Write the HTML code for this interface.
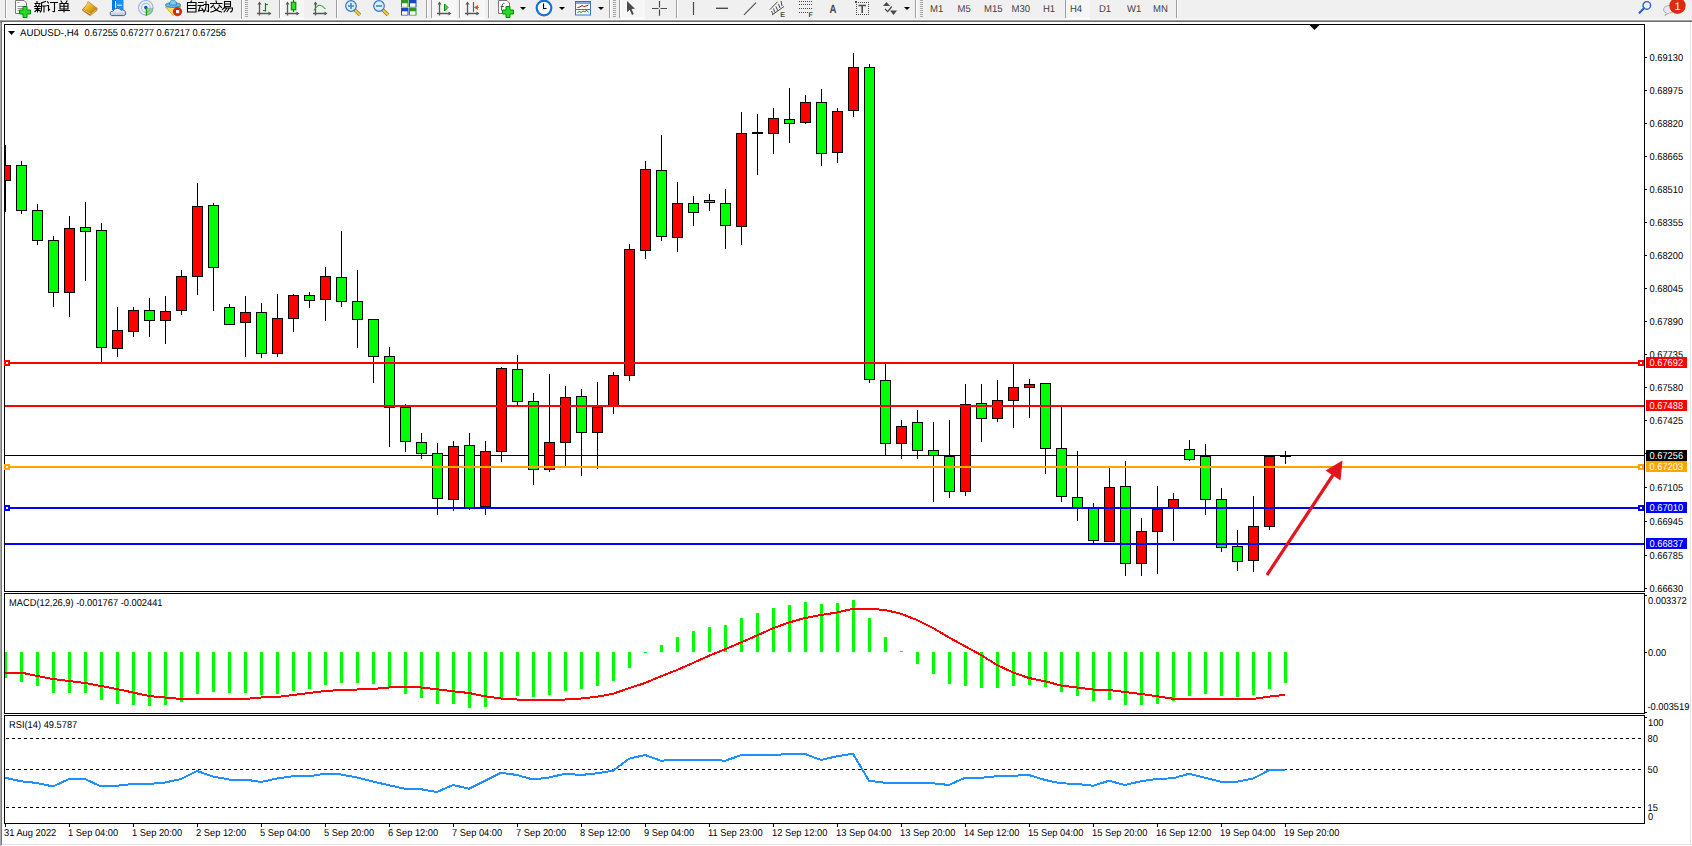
<!DOCTYPE html><html><head><meta charset="utf-8"><style>
html,body{margin:0;padding:0;width:1692px;height:846px;overflow:hidden;background:#f0f0f0;}
svg{display:block;position:absolute;left:0;top:0;}
text{font-family:"Liberation Sans", sans-serif;text-rendering:geometricPrecision;}
</style></head><body>
<svg width="1692" height="846" viewBox="0 0 1692 846">
<rect x="0" y="0" width="1692" height="19" fill="#f0f0f0"/>
<rect x="0" y="19" width="1692" height="1" fill="#f7f7f7"/>
<rect x="0" y="20" width="1692" height="1" fill="#a0a0a0"/>
<rect x="0" y="21" width="1692" height="1" fill="#6e6e6e"/>
<rect x="0" y="22" width="1692" height="824" fill="#ffffff"/>
<rect x="0" y="22" width="1" height="824" fill="#a8a8a8"/>
<rect x="1" y="22" width="1" height="823" fill="#787878"/>
<rect x="2" y="844" width="1690" height="1" fill="#e3e3e3"/>
<rect x="1690" y="22" width="1" height="823" fill="#e3e3e3"/>
<g shape-rendering="crispEdges">
<rect x="4" y="24" width="1641" height="1" fill="#000"/>
<rect x="4" y="591" width="1641" height="1" fill="#000"/>
<rect x="4" y="24" width="1" height="568" fill="#000"/>
<rect x="1644" y="24" width="1" height="568" fill="#000"/>
<rect x="4" y="593" width="1641" height="1" fill="#000"/>
<rect x="4" y="713" width="1641" height="1" fill="#000"/>
<rect x="4" y="593" width="1" height="121" fill="#000"/>
<rect x="1644" y="593" width="1" height="121" fill="#000"/>
<rect x="4" y="715" width="1641" height="1" fill="#000"/>
<rect x="4" y="823" width="1641" height="1" fill="#000"/>
<rect x="4" y="715" width="1" height="109" fill="#000"/>
<rect x="1644" y="715" width="1" height="109" fill="#000"/>
<defs><clipPath id="cm"><rect x="5" y="25" width="1639" height="566"/></clipPath><clipPath id="cmacd"><rect x="5" y="594" width="1639" height="119"/></clipPath><clipPath id="crsi"><rect x="5" y="716" width="1639" height="107"/></clipPath></defs>
<rect x="5" y="455" width="1639" height="1" fill="#000"/>
<g clip-path="url(#cm)">
<rect x="5" y="145" width="1" height="67" fill="#000"/>
<rect x="0" y="165" width="11" height="16" fill="#000"/>
<rect x="1" y="166" width="9" height="14" fill="#ff0000"/>
<rect x="21" y="161" width="1" height="53" fill="#000"/>
<rect x="16" y="165" width="11" height="46" fill="#000"/>
<rect x="17" y="166" width="9" height="44" fill="#00ff00"/>
<rect x="37" y="204" width="1" height="41" fill="#000"/>
<rect x="32" y="210" width="11" height="31" fill="#000"/>
<rect x="33" y="211" width="9" height="29" fill="#00ff00"/>
<rect x="53" y="236" width="1" height="71" fill="#000"/>
<rect x="48" y="240" width="11" height="53" fill="#000"/>
<rect x="49" y="241" width="9" height="51" fill="#00ff00"/>
<rect x="69" y="216" width="1" height="101" fill="#000"/>
<rect x="64" y="228" width="11" height="65" fill="#000"/>
<rect x="65" y="229" width="9" height="63" fill="#ff0000"/>
<rect x="85" y="202" width="1" height="79" fill="#000"/>
<rect x="80" y="227" width="11" height="5" fill="#000"/>
<rect x="81" y="228" width="9" height="3" fill="#00ff00"/>
<rect x="101" y="223" width="1" height="139" fill="#000"/>
<rect x="96" y="230" width="11" height="118" fill="#000"/>
<rect x="97" y="231" width="9" height="116" fill="#00ff00"/>
<rect x="117" y="307" width="1" height="50" fill="#000"/>
<rect x="112" y="330" width="11" height="19" fill="#000"/>
<rect x="113" y="331" width="9" height="17" fill="#ff0000"/>
<rect x="133" y="307" width="1" height="30" fill="#000"/>
<rect x="128" y="310" width="11" height="22" fill="#000"/>
<rect x="129" y="311" width="9" height="20" fill="#ff0000"/>
<rect x="149" y="298" width="1" height="39" fill="#000"/>
<rect x="144" y="310" width="11" height="11" fill="#000"/>
<rect x="145" y="311" width="9" height="9" fill="#00ff00"/>
<rect x="165" y="296" width="1" height="48" fill="#000"/>
<rect x="160" y="311" width="11" height="10" fill="#000"/>
<rect x="161" y="312" width="9" height="8" fill="#ff0000"/>
<rect x="181" y="270" width="1" height="45" fill="#000"/>
<rect x="176" y="276" width="11" height="35" fill="#000"/>
<rect x="177" y="277" width="9" height="33" fill="#ff0000"/>
<rect x="197" y="183" width="1" height="112" fill="#000"/>
<rect x="192" y="206" width="11" height="71" fill="#000"/>
<rect x="193" y="207" width="9" height="69" fill="#ff0000"/>
<rect x="213" y="203" width="1" height="108" fill="#000"/>
<rect x="208" y="205" width="11" height="63" fill="#000"/>
<rect x="209" y="206" width="9" height="61" fill="#00ff00"/>
<rect x="229" y="304" width="1" height="20" fill="#000"/>
<rect x="224" y="307" width="11" height="18" fill="#000"/>
<rect x="225" y="308" width="9" height="16" fill="#00ff00"/>
<rect x="245" y="296" width="1" height="61" fill="#000"/>
<rect x="240" y="312" width="11" height="11" fill="#000"/>
<rect x="241" y="313" width="9" height="9" fill="#ff0000"/>
<rect x="261" y="303" width="1" height="55" fill="#000"/>
<rect x="256" y="312" width="11" height="42" fill="#000"/>
<rect x="257" y="313" width="9" height="40" fill="#00ff00"/>
<rect x="277" y="294" width="1" height="63" fill="#000"/>
<rect x="272" y="318" width="11" height="36" fill="#000"/>
<rect x="273" y="319" width="9" height="34" fill="#ff0000"/>
<rect x="293" y="294" width="1" height="38" fill="#000"/>
<rect x="288" y="295" width="11" height="24" fill="#000"/>
<rect x="289" y="296" width="9" height="22" fill="#ff0000"/>
<rect x="309" y="292" width="1" height="16" fill="#000"/>
<rect x="304" y="295" width="11" height="6" fill="#000"/>
<rect x="305" y="296" width="9" height="4" fill="#00ff00"/>
<rect x="325" y="267" width="1" height="54" fill="#000"/>
<rect x="320" y="276" width="11" height="24" fill="#000"/>
<rect x="321" y="277" width="9" height="22" fill="#ff0000"/>
<rect x="341" y="231" width="1" height="76" fill="#000"/>
<rect x="336" y="277" width="11" height="25" fill="#000"/>
<rect x="337" y="278" width="9" height="23" fill="#00ff00"/>
<rect x="357" y="270" width="1" height="78" fill="#000"/>
<rect x="352" y="301" width="11" height="19" fill="#000"/>
<rect x="353" y="302" width="9" height="17" fill="#00ff00"/>
<rect x="373" y="319" width="1" height="64" fill="#000"/>
<rect x="368" y="319" width="11" height="38" fill="#000"/>
<rect x="369" y="320" width="9" height="36" fill="#00ff00"/>
<rect x="389" y="347" width="1" height="100" fill="#000"/>
<rect x="384" y="356" width="11" height="52" fill="#000"/>
<rect x="385" y="357" width="9" height="50" fill="#00ff00"/>
<rect x="405" y="404" width="1" height="48" fill="#000"/>
<rect x="400" y="407" width="11" height="35" fill="#000"/>
<rect x="401" y="408" width="9" height="33" fill="#00ff00"/>
<rect x="421" y="433" width="1" height="26" fill="#000"/>
<rect x="416" y="442" width="11" height="12" fill="#000"/>
<rect x="417" y="443" width="9" height="10" fill="#00ff00"/>
<rect x="437" y="443" width="1" height="72" fill="#000"/>
<rect x="432" y="453" width="11" height="46" fill="#000"/>
<rect x="433" y="454" width="9" height="44" fill="#00ff00"/>
<rect x="453" y="441" width="1" height="70" fill="#000"/>
<rect x="448" y="446" width="11" height="54" fill="#000"/>
<rect x="449" y="447" width="9" height="52" fill="#ff0000"/>
<rect x="469" y="433" width="1" height="77" fill="#000"/>
<rect x="464" y="445" width="11" height="63" fill="#000"/>
<rect x="465" y="446" width="9" height="61" fill="#00ff00"/>
<rect x="485" y="441" width="1" height="74" fill="#000"/>
<rect x="480" y="451" width="11" height="56" fill="#000"/>
<rect x="481" y="452" width="9" height="54" fill="#ff0000"/>
<rect x="501" y="367" width="1" height="95" fill="#000"/>
<rect x="496" y="368" width="11" height="84" fill="#000"/>
<rect x="497" y="369" width="9" height="82" fill="#ff0000"/>
<rect x="517" y="355" width="1" height="50" fill="#000"/>
<rect x="512" y="369" width="11" height="33" fill="#000"/>
<rect x="513" y="370" width="9" height="31" fill="#00ff00"/>
<rect x="533" y="393" width="1" height="92" fill="#000"/>
<rect x="528" y="401" width="11" height="69" fill="#000"/>
<rect x="529" y="402" width="9" height="67" fill="#00ff00"/>
<rect x="549" y="374" width="1" height="98" fill="#000"/>
<rect x="544" y="442" width="11" height="28" fill="#000"/>
<rect x="545" y="443" width="9" height="26" fill="#ff0000"/>
<rect x="565" y="386" width="1" height="80" fill="#000"/>
<rect x="560" y="397" width="11" height="46" fill="#000"/>
<rect x="561" y="398" width="9" height="44" fill="#ff0000"/>
<rect x="581" y="389" width="1" height="87" fill="#000"/>
<rect x="576" y="396" width="11" height="37" fill="#000"/>
<rect x="577" y="397" width="9" height="35" fill="#00ff00"/>
<rect x="597" y="382" width="1" height="87" fill="#000"/>
<rect x="592" y="407" width="11" height="26" fill="#000"/>
<rect x="593" y="408" width="9" height="24" fill="#ff0000"/>
<rect x="613" y="372" width="1" height="42" fill="#000"/>
<rect x="608" y="375" width="11" height="32" fill="#000"/>
<rect x="609" y="376" width="9" height="30" fill="#ff0000"/>
<rect x="629" y="244" width="1" height="137" fill="#000"/>
<rect x="624" y="249" width="11" height="127" fill="#000"/>
<rect x="625" y="250" width="9" height="125" fill="#ff0000"/>
<rect x="645" y="161" width="1" height="98" fill="#000"/>
<rect x="640" y="169" width="11" height="82" fill="#000"/>
<rect x="641" y="170" width="9" height="80" fill="#ff0000"/>
<rect x="661" y="135" width="1" height="106" fill="#000"/>
<rect x="656" y="170" width="11" height="67" fill="#000"/>
<rect x="657" y="171" width="9" height="65" fill="#00ff00"/>
<rect x="677" y="182" width="1" height="70" fill="#000"/>
<rect x="672" y="203" width="11" height="35" fill="#000"/>
<rect x="673" y="204" width="9" height="33" fill="#ff0000"/>
<rect x="693" y="196" width="1" height="30" fill="#000"/>
<rect x="688" y="203" width="11" height="10" fill="#000"/>
<rect x="689" y="204" width="9" height="8" fill="#00ff00"/>
<rect x="709" y="194" width="1" height="17" fill="#000"/>
<rect x="704" y="200" width="11" height="3" fill="#000"/>
<rect x="705" y="201" width="9" height="1" fill="#00ff00"/>
<rect x="725" y="189" width="1" height="60" fill="#000"/>
<rect x="720" y="203" width="11" height="23" fill="#000"/>
<rect x="721" y="204" width="9" height="21" fill="#00ff00"/>
<rect x="741" y="112" width="1" height="133" fill="#000"/>
<rect x="736" y="133" width="11" height="94" fill="#000"/>
<rect x="737" y="134" width="9" height="92" fill="#ff0000"/>
<rect x="757" y="114" width="1" height="61" fill="#000"/>
<rect x="752" y="132" width="11" height="2" fill="#000"/>
<rect x="773" y="108" width="1" height="46" fill="#000"/>
<rect x="768" y="118" width="11" height="16" fill="#000"/>
<rect x="769" y="119" width="9" height="14" fill="#ff0000"/>
<rect x="789" y="88" width="1" height="55" fill="#000"/>
<rect x="784" y="119" width="11" height="5" fill="#000"/>
<rect x="785" y="120" width="9" height="3" fill="#00ff00"/>
<rect x="805" y="95" width="1" height="29" fill="#000"/>
<rect x="800" y="102" width="11" height="21" fill="#000"/>
<rect x="801" y="103" width="9" height="19" fill="#ff0000"/>
<rect x="821" y="89" width="1" height="77" fill="#000"/>
<rect x="816" y="102" width="11" height="52" fill="#000"/>
<rect x="817" y="103" width="9" height="50" fill="#00ff00"/>
<rect x="837" y="108" width="1" height="55" fill="#000"/>
<rect x="832" y="111" width="11" height="42" fill="#000"/>
<rect x="833" y="112" width="9" height="40" fill="#ff0000"/>
<rect x="853" y="53" width="1" height="64" fill="#000"/>
<rect x="848" y="67" width="11" height="44" fill="#000"/>
<rect x="849" y="68" width="9" height="42" fill="#ff0000"/>
<rect x="869" y="64" width="1" height="319" fill="#000"/>
<rect x="864" y="67" width="11" height="313" fill="#000"/>
<rect x="865" y="68" width="9" height="311" fill="#00ff00"/>
<rect x="885" y="364" width="1" height="91" fill="#000"/>
<rect x="880" y="380" width="11" height="64" fill="#000"/>
<rect x="881" y="381" width="9" height="62" fill="#00ff00"/>
<rect x="901" y="420" width="1" height="39" fill="#000"/>
<rect x="896" y="426" width="11" height="18" fill="#000"/>
<rect x="897" y="427" width="9" height="16" fill="#ff0000"/>
<rect x="917" y="410" width="1" height="49" fill="#000"/>
<rect x="912" y="422" width="11" height="29" fill="#000"/>
<rect x="913" y="423" width="9" height="27" fill="#00ff00"/>
<rect x="933" y="422" width="1" height="80" fill="#000"/>
<rect x="928" y="450" width="11" height="6" fill="#000"/>
<rect x="929" y="451" width="9" height="4" fill="#00ff00"/>
<rect x="949" y="420" width="1" height="78" fill="#000"/>
<rect x="944" y="456" width="11" height="36" fill="#000"/>
<rect x="945" y="457" width="9" height="34" fill="#00ff00"/>
<rect x="965" y="384" width="1" height="112" fill="#000"/>
<rect x="960" y="404" width="11" height="88" fill="#000"/>
<rect x="961" y="405" width="9" height="86" fill="#ff0000"/>
<rect x="981" y="384" width="1" height="58" fill="#000"/>
<rect x="976" y="403" width="11" height="16" fill="#000"/>
<rect x="977" y="404" width="9" height="14" fill="#00ff00"/>
<rect x="997" y="380" width="1" height="42" fill="#000"/>
<rect x="992" y="400" width="11" height="19" fill="#000"/>
<rect x="993" y="401" width="9" height="17" fill="#ff0000"/>
<rect x="1013" y="364" width="1" height="64" fill="#000"/>
<rect x="1008" y="387" width="11" height="14" fill="#000"/>
<rect x="1009" y="388" width="9" height="12" fill="#ff0000"/>
<rect x="1029" y="379" width="1" height="39" fill="#000"/>
<rect x="1024" y="384" width="11" height="4" fill="#000"/>
<rect x="1025" y="385" width="9" height="2" fill="#ff0000"/>
<rect x="1045" y="383" width="1" height="91" fill="#000"/>
<rect x="1040" y="383" width="11" height="66" fill="#000"/>
<rect x="1041" y="384" width="9" height="64" fill="#00ff00"/>
<rect x="1061" y="406" width="1" height="96" fill="#000"/>
<rect x="1056" y="448" width="11" height="49" fill="#000"/>
<rect x="1057" y="449" width="9" height="47" fill="#00ff00"/>
<rect x="1077" y="451" width="1" height="70" fill="#000"/>
<rect x="1072" y="497" width="11" height="11" fill="#000"/>
<rect x="1073" y="498" width="9" height="9" fill="#00ff00"/>
<rect x="1093" y="503" width="1" height="40" fill="#000"/>
<rect x="1088" y="508" width="11" height="33" fill="#000"/>
<rect x="1089" y="509" width="9" height="31" fill="#00ff00"/>
<rect x="1109" y="468" width="1" height="73" fill="#000"/>
<rect x="1104" y="487" width="11" height="55" fill="#000"/>
<rect x="1105" y="488" width="9" height="53" fill="#ff0000"/>
<rect x="1125" y="461" width="1" height="115" fill="#000"/>
<rect x="1120" y="486" width="11" height="78" fill="#000"/>
<rect x="1121" y="487" width="9" height="76" fill="#00ff00"/>
<rect x="1141" y="518" width="1" height="58" fill="#000"/>
<rect x="1136" y="531" width="11" height="33" fill="#000"/>
<rect x="1137" y="532" width="9" height="31" fill="#ff0000"/>
<rect x="1157" y="486" width="1" height="88" fill="#000"/>
<rect x="1152" y="509" width="11" height="23" fill="#000"/>
<rect x="1153" y="510" width="9" height="21" fill="#ff0000"/>
<rect x="1173" y="493" width="1" height="48" fill="#000"/>
<rect x="1168" y="499" width="11" height="9" fill="#000"/>
<rect x="1169" y="500" width="9" height="7" fill="#ff0000"/>
<rect x="1189" y="440" width="1" height="21" fill="#000"/>
<rect x="1184" y="449" width="11" height="11" fill="#000"/>
<rect x="1185" y="450" width="9" height="9" fill="#00ff00"/>
<rect x="1205" y="444" width="1" height="71" fill="#000"/>
<rect x="1200" y="456" width="11" height="44" fill="#000"/>
<rect x="1201" y="457" width="9" height="42" fill="#00ff00"/>
<rect x="1221" y="488" width="1" height="64" fill="#000"/>
<rect x="1216" y="499" width="11" height="49" fill="#000"/>
<rect x="1217" y="500" width="9" height="47" fill="#00ff00"/>
<rect x="1237" y="530" width="1" height="41" fill="#000"/>
<rect x="1232" y="546" width="11" height="16" fill="#000"/>
<rect x="1233" y="547" width="9" height="14" fill="#00ff00"/>
<rect x="1253" y="496" width="1" height="76" fill="#000"/>
<rect x="1248" y="526" width="11" height="35" fill="#000"/>
<rect x="1249" y="527" width="9" height="33" fill="#ff0000"/>
<rect x="1269" y="455" width="1" height="75" fill="#000"/>
<rect x="1264" y="456" width="11" height="71" fill="#000"/>
<rect x="1265" y="457" width="9" height="69" fill="#ff0000"/>
<rect x="1285" y="451" width="1" height="13" fill="#000"/>
<rect x="1280" y="455" width="11" height="2" fill="#000"/>
</g>
</g>
<g shape-rendering="crispEdges">
<rect x="5" y="362" width="1639" height="2" fill="#ff0000"/>
<rect x="4" y="360" width="6" height="6" fill="#ff0000"/>
<rect x="6" y="362" width="2" height="2" fill="#fff"/>
<rect x="1638" y="360" width="6" height="6" fill="#ff0000"/>
<rect x="1640" y="362" width="2" height="2" fill="#fff"/>
<rect x="5" y="405" width="1639" height="2" fill="#ff0000"/>
<rect x="5" y="466" width="1639" height="2" fill="#ffa500"/>
<rect x="4" y="464" width="6" height="6" fill="#ffa500"/>
<rect x="6" y="466" width="2" height="2" fill="#fff"/>
<rect x="1638" y="464" width="6" height="6" fill="#ffa500"/>
<rect x="1640" y="466" width="2" height="2" fill="#fff"/>
<rect x="5" y="507" width="1639" height="2" fill="#0000ff"/>
<rect x="4" y="505" width="6" height="6" fill="#0000ff"/>
<rect x="6" y="507" width="2" height="2" fill="#fff"/>
<rect x="1638" y="505" width="6" height="6" fill="#0000ff"/>
<rect x="1640" y="507" width="2" height="2" fill="#fff"/>
<rect x="5" y="543" width="1639" height="2" fill="#0000ff"/>
</g>
<g shape-rendering="crispEdges">
<rect x="1645" y="57" width="2" height="1" fill="#000"/>
<rect x="1645" y="90" width="2" height="1" fill="#000"/>
<rect x="1645" y="123" width="2" height="1" fill="#000"/>
<rect x="1645" y="156" width="2" height="1" fill="#000"/>
<rect x="1645" y="189" width="2" height="1" fill="#000"/>
<rect x="1645" y="222" width="2" height="1" fill="#000"/>
<rect x="1645" y="255" width="2" height="1" fill="#000"/>
<rect x="1645" y="288" width="2" height="1" fill="#000"/>
<rect x="1645" y="321" width="2" height="1" fill="#000"/>
<rect x="1645" y="354" width="2" height="1" fill="#000"/>
<rect x="1645" y="387" width="2" height="1" fill="#000"/>
<rect x="1645" y="420" width="2" height="1" fill="#000"/>
<rect x="1645" y="453" width="2" height="1" fill="#000"/>
<rect x="1645" y="487" width="2" height="1" fill="#000"/>
<rect x="1645" y="521" width="2" height="1" fill="#000"/>
<rect x="1645" y="555" width="2" height="1" fill="#000"/>
<rect x="1645" y="588" width="2" height="1" fill="#000"/>
</g>
<text transform="translate(1649.5 61) scale(0.93 1)" font-size="10" fill="#000">0.69130</text>
<text transform="translate(1649.5 94) scale(0.93 1)" font-size="10" fill="#000">0.68975</text>
<text transform="translate(1649.5 127) scale(0.93 1)" font-size="10" fill="#000">0.68820</text>
<text transform="translate(1649.5 160) scale(0.93 1)" font-size="10" fill="#000">0.68665</text>
<text transform="translate(1649.5 193) scale(0.93 1)" font-size="10" fill="#000">0.68510</text>
<text transform="translate(1649.5 226) scale(0.93 1)" font-size="10" fill="#000">0.68355</text>
<text transform="translate(1649.5 259) scale(0.93 1)" font-size="10" fill="#000">0.68200</text>
<text transform="translate(1649.5 292) scale(0.93 1)" font-size="10" fill="#000">0.68045</text>
<text transform="translate(1649.5 325) scale(0.93 1)" font-size="10" fill="#000">0.67890</text>
<text transform="translate(1649.5 358) scale(0.93 1)" font-size="10" fill="#000">0.67735</text>
<text transform="translate(1649.5 391) scale(0.93 1)" font-size="10" fill="#000">0.67580</text>
<text transform="translate(1649.5 424) scale(0.93 1)" font-size="10" fill="#000">0.67425</text>
<text transform="translate(1649.5 457) scale(0.93 1)" font-size="10" fill="#000">0.67270</text>
<text transform="translate(1649.5 491) scale(0.93 1)" font-size="10" fill="#000">0.67105</text>
<text transform="translate(1649.5 525) scale(0.93 1)" font-size="10" fill="#000">0.66945</text>
<text transform="translate(1649.5 559) scale(0.93 1)" font-size="10" fill="#000">0.66785</text>
<text transform="translate(1649.5 592) scale(0.93 1)" font-size="10" fill="#000">0.66630</text>
<g shape-rendering="crispEdges">
<rect x="1646" y="357" width="41" height="11" fill="#ff0000"/>
<rect x="1646" y="400" width="41" height="11" fill="#ff0000"/>
<rect x="1646" y="450" width="41" height="11" fill="#000000"/>
<rect x="1646" y="461" width="41" height="11" fill="#ffa500"/>
<rect x="1646" y="502" width="41" height="11" fill="#0000ff"/>
<rect x="1646" y="538" width="41" height="11" fill="#0000ff"/>
</g>
<text transform="translate(1649.5 366) scale(0.93 1)" font-size="10" fill="#fff">0.67692</text>
<text transform="translate(1649.5 409) scale(0.93 1)" font-size="10" fill="#fff">0.67488</text>
<text transform="translate(1649.5 459) scale(0.93 1)" font-size="10" fill="#fff">0.67256</text>
<text transform="translate(1649.5 470) scale(0.93 1)" font-size="10" fill="#fff">0.67203</text>
<text transform="translate(1649.5 511) scale(0.93 1)" font-size="10" fill="#fff">0.67010</text>
<text transform="translate(1649.5 547) scale(0.93 1)" font-size="10" fill="#fff">0.66837</text>
<path d="M8 31 L15 31 L11.5 35 Z" fill="#000"/>
<text transform="translate(20 36) scale(0.965 1)" font-size="10" fill="#000">AUDUSD-,H4</text>
<text transform="translate(84.5 36) scale(0.925 1)" font-size="10" fill="#000">0.67255 0.67277 0.67217 0.67256</text>
<path d="M1309.5 25 L1319.5 25 L1314.5 30 Z" fill="#000"/>
<g clip-path="url(#cmacd)" shape-rendering="crispEdges">
<rect x="4" y="652" width="3" height="26" fill="#00ff00"/>
<rect x="20" y="652" width="3" height="30" fill="#00ff00"/>
<rect x="36" y="652" width="3" height="34" fill="#00ff00"/>
<rect x="52" y="652" width="3" height="41" fill="#00ff00"/>
<rect x="68" y="652" width="3" height="41" fill="#00ff00"/>
<rect x="84" y="652" width="3" height="41" fill="#00ff00"/>
<rect x="100" y="652" width="3" height="48" fill="#00ff00"/>
<rect x="116" y="652" width="3" height="52" fill="#00ff00"/>
<rect x="132" y="652" width="3" height="53" fill="#00ff00"/>
<rect x="148" y="652" width="3" height="54" fill="#00ff00"/>
<rect x="164" y="652" width="3" height="53" fill="#00ff00"/>
<rect x="180" y="652" width="3" height="50" fill="#00ff00"/>
<rect x="196" y="652" width="3" height="42" fill="#00ff00"/>
<rect x="212" y="652" width="3" height="40" fill="#00ff00"/>
<rect x="228" y="652" width="3" height="41" fill="#00ff00"/>
<rect x="244" y="652" width="3" height="41" fill="#00ff00"/>
<rect x="260" y="652" width="3" height="43" fill="#00ff00"/>
<rect x="276" y="652" width="3" height="42" fill="#00ff00"/>
<rect x="292" y="652" width="3" height="39" fill="#00ff00"/>
<rect x="308" y="652" width="3" height="37" fill="#00ff00"/>
<rect x="324" y="652" width="3" height="33" fill="#00ff00"/>
<rect x="340" y="652" width="3" height="31" fill="#00ff00"/>
<rect x="356" y="652" width="3" height="31" fill="#00ff00"/>
<rect x="372" y="652" width="3" height="32" fill="#00ff00"/>
<rect x="388" y="652" width="3" height="36" fill="#00ff00"/>
<rect x="404" y="652" width="3" height="42" fill="#00ff00"/>
<rect x="420" y="652" width="3" height="46" fill="#00ff00"/>
<rect x="436" y="652" width="3" height="52" fill="#00ff00"/>
<rect x="452" y="652" width="3" height="52" fill="#00ff00"/>
<rect x="468" y="652" width="3" height="56" fill="#00ff00"/>
<rect x="484" y="652" width="3" height="55" fill="#00ff00"/>
<rect x="500" y="652" width="3" height="47" fill="#00ff00"/>
<rect x="516" y="652" width="3" height="44" fill="#00ff00"/>
<rect x="532" y="652" width="3" height="45" fill="#00ff00"/>
<rect x="548" y="652" width="3" height="43" fill="#00ff00"/>
<rect x="564" y="652" width="3" height="39" fill="#00ff00"/>
<rect x="580" y="652" width="3" height="37" fill="#00ff00"/>
<rect x="596" y="652" width="3" height="34" fill="#00ff00"/>
<rect x="612" y="652" width="3" height="29" fill="#00ff00"/>
<rect x="628" y="652" width="3" height="16" fill="#00ff00"/>
<rect x="644" y="652" width="3" height="1" fill="#00ff00"/>
<rect x="660" y="645" width="3" height="7" fill="#00ff00"/>
<rect x="676" y="637" width="3" height="15" fill="#00ff00"/>
<rect x="692" y="631" width="3" height="21" fill="#00ff00"/>
<rect x="708" y="627" width="3" height="25" fill="#00ff00"/>
<rect x="724" y="625" width="3" height="27" fill="#00ff00"/>
<rect x="740" y="618" width="3" height="34" fill="#00ff00"/>
<rect x="756" y="613" width="3" height="39" fill="#00ff00"/>
<rect x="772" y="608" width="3" height="44" fill="#00ff00"/>
<rect x="788" y="605" width="3" height="47" fill="#00ff00"/>
<rect x="804" y="602" width="3" height="50" fill="#00ff00"/>
<rect x="820" y="604" width="3" height="48" fill="#00ff00"/>
<rect x="836" y="603" width="3" height="49" fill="#00ff00"/>
<rect x="852" y="600" width="3" height="52" fill="#00ff00"/>
<rect x="868" y="618" width="3" height="34" fill="#00ff00"/>
<rect x="884" y="637" width="3" height="15" fill="#00ff00"/>
<rect x="900" y="651" width="3" height="1" fill="#00ff00"/>
<rect x="916" y="652" width="3" height="12" fill="#00ff00"/>
<rect x="932" y="652" width="3" height="22" fill="#00ff00"/>
<rect x="948" y="652" width="3" height="32" fill="#00ff00"/>
<rect x="964" y="652" width="3" height="34" fill="#00ff00"/>
<rect x="980" y="652" width="3" height="36" fill="#00ff00"/>
<rect x="996" y="652" width="3" height="36" fill="#00ff00"/>
<rect x="1012" y="652" width="3" height="34" fill="#00ff00"/>
<rect x="1028" y="652" width="3" height="33" fill="#00ff00"/>
<rect x="1044" y="652" width="3" height="35" fill="#00ff00"/>
<rect x="1060" y="652" width="3" height="40" fill="#00ff00"/>
<rect x="1076" y="652" width="3" height="44" fill="#00ff00"/>
<rect x="1092" y="652" width="3" height="49" fill="#00ff00"/>
<rect x="1108" y="652" width="3" height="48" fill="#00ff00"/>
<rect x="1124" y="652" width="3" height="53" fill="#00ff00"/>
<rect x="1140" y="652" width="3" height="53" fill="#00ff00"/>
<rect x="1156" y="652" width="3" height="52" fill="#00ff00"/>
<rect x="1172" y="652" width="3" height="49" fill="#00ff00"/>
<rect x="1188" y="652" width="3" height="44" fill="#00ff00"/>
<rect x="1204" y="652" width="3" height="42" fill="#00ff00"/>
<rect x="1220" y="652" width="3" height="44" fill="#00ff00"/>
<rect x="1236" y="652" width="3" height="45" fill="#00ff00"/>
<rect x="1252" y="652" width="3" height="43" fill="#00ff00"/>
<rect x="1268" y="652" width="3" height="37" fill="#00ff00"/>
<rect x="1284" y="652" width="3" height="31" fill="#00ff00"/>
</g>
<g clip-path="url(#cmacd)"><polyline fill="none" stroke="#ff0000" stroke-width="2" shape-rendering="crispEdges" stroke-linejoin="round" points="5,672.5 21,672.5 37,676 53,679 69,681 85,683 101,686 117,689 133,692.5 149,696 165,697.5 181,699 197,699 213,699 229,699 245,699 261,697.5 277,697 293,695 309,693 325,691 341,690 357,689.5 373,689 389,687.5 405,687 421,687.5 437,689.25 453,691.25 469,693 485,696.25 501,698.5 517,699.5 533,699.5 549,699.5 565,699.5 581,698.5 597,696.75 613,693.75 629,688.25 645,683 661,676.25 677,670 693,663 709,655.75 725,649.25 741,642.5 757,635.5 773,628.25 789,622.5 805,618 821,615 837,612.5 853,608.75 869,608.75 885,610 901,613.75 917,620 933,628 949,637.5 965,646.25 981,655 997,665 1013,672.5 1029,678 1045,681.25 1061,685.5 1077,687.5 1093,689.5 1109,690 1125,692 1141,694 1157,696.25 1173,698.75 1189,699 1205,699 1221,699 1237,699 1253,699 1269,696.6 1285,694.8"/></g>
<text transform="translate(9 606) scale(0.93 1)" font-size="10" fill="#000">MACD(12,26,9) -0.001767 -0.002441</text>
<g shape-rendering="crispEdges">
<rect x="1645" y="595" width="2" height="1" fill="#000"/>
<rect x="1645" y="652" width="2" height="1" fill="#000"/>
<rect x="1645" y="712" width="2" height="1" fill="#000"/>
</g>
<text transform="translate(1648 604) scale(0.93 1)" font-size="10" fill="#000">0.003372</text>
<text transform="translate(1648 656) scale(0.93 1)" font-size="10" fill="#000">0.00</text>
<text transform="translate(1647.5 710) scale(0.93 1)" font-size="10" fill="#000">-0.003519</text>
<g shape-rendering="crispEdges">
<line x1="6" y1="738.5" x2="1644" y2="738.5" stroke="#000" stroke-width="1" stroke-dasharray="3 3"/>
<line x1="6" y1="769.5" x2="1644" y2="769.5" stroke="#000" stroke-width="1" stroke-dasharray="3 3"/>
<line x1="6" y1="807.5" x2="1644" y2="807.5" stroke="#000" stroke-width="1" stroke-dasharray="3 3"/>
<rect x="1645" y="717" width="2" height="1" fill="#000"/>
</g>
<g clip-path="url(#crsi)"><polyline fill="none" stroke="#1e90ff" stroke-width="2" shape-rendering="crispEdges" stroke-linejoin="round" points="5,777.75 21,781.25 37,783 53,786.5 69,779 85,779 101,786.5 117,785.75 133,784 149,784 165,782.5 181,779 197,771 213,776.5 229,779.5 245,779.5 261,782 277,778.5 293,776.25 309,776.25 325,773.75 341,774.5 357,777.5 373,781.5 389,785.25 405,788.75 421,789.25 437,792 453,785 469,788.75 485,780.75 501,772.75 517,775 533,779.5 549,777.5 565,773.75 581,775 597,773.25 613,770.75 629,758.75 645,755 661,760.75 677,759.5 693,759.5 709,759.5 725,760.75 741,755.25 757,755 773,755 789,754 805,754 821,760 837,756.25 853,753.75 869,780.75 885,782.75 901,782.75 917,782.75 933,783.25 949,785 965,777.75 981,777.75 997,776.25 1013,775.75 1029,775 1045,780 1061,783.25 1077,784 1093,785.75 1109,780.75 1125,785 1141,781.25 1157,779 1173,778.25 1189,773.8 1205,777.8 1221,781.7 1237,781.7 1253,778.6 1269,770.3 1285,769.8"/></g>
<text transform="translate(9 728) scale(0.93 1)" font-size="10" fill="#000">RSI(14) 49.5787</text>
<text transform="translate(1648 726) scale(0.93 1)" font-size="10" fill="#000">100</text>
<text transform="translate(1647.5 742) scale(0.93 1)" font-size="10" fill="#000">80</text>
<text transform="translate(1647.5 773) scale(0.93 1)" font-size="10" fill="#000">50</text>
<text transform="translate(1647.5 811) scale(0.93 1)" font-size="10" fill="#000">15</text>
<text transform="translate(1648 820) scale(0.93 1)" font-size="10" fill="#000">0</text>
<g shape-rendering="crispEdges">
<rect x="5" y="824" width="1" height="3" fill="#000"/>
<rect x="69" y="824" width="1" height="3" fill="#000"/>
<rect x="133" y="824" width="1" height="3" fill="#000"/>
<rect x="197" y="824" width="1" height="3" fill="#000"/>
<rect x="261" y="824" width="1" height="3" fill="#000"/>
<rect x="325" y="824" width="1" height="3" fill="#000"/>
<rect x="389" y="824" width="1" height="3" fill="#000"/>
<rect x="453" y="824" width="1" height="3" fill="#000"/>
<rect x="517" y="824" width="1" height="3" fill="#000"/>
<rect x="581" y="824" width="1" height="3" fill="#000"/>
<rect x="645" y="824" width="1" height="3" fill="#000"/>
<rect x="709" y="824" width="1" height="3" fill="#000"/>
<rect x="773" y="824" width="1" height="3" fill="#000"/>
<rect x="837" y="824" width="1" height="3" fill="#000"/>
<rect x="901" y="824" width="1" height="3" fill="#000"/>
<rect x="965" y="824" width="1" height="3" fill="#000"/>
<rect x="1029" y="824" width="1" height="3" fill="#000"/>
<rect x="1093" y="824" width="1" height="3" fill="#000"/>
<rect x="1157" y="824" width="1" height="3" fill="#000"/>
<rect x="1221" y="824" width="1" height="3" fill="#000"/>
<rect x="1285" y="824" width="1" height="3" fill="#000"/>
</g>
<text transform="translate(4 836) scale(0.93 1)" font-size="10" fill="#000">31 Aug 2022</text>
<text transform="translate(68 836) scale(0.93 1)" font-size="10" fill="#000">1 Sep 04:00</text>
<text transform="translate(132 836) scale(0.93 1)" font-size="10" fill="#000">1 Sep 20:00</text>
<text transform="translate(196 836) scale(0.93 1)" font-size="10" fill="#000">2 Sep 12:00</text>
<text transform="translate(260 836) scale(0.93 1)" font-size="10" fill="#000">5 Sep 04:00</text>
<text transform="translate(324 836) scale(0.93 1)" font-size="10" fill="#000">5 Sep 20:00</text>
<text transform="translate(388 836) scale(0.93 1)" font-size="10" fill="#000">6 Sep 12:00</text>
<text transform="translate(452 836) scale(0.93 1)" font-size="10" fill="#000">7 Sep 04:00</text>
<text transform="translate(516 836) scale(0.93 1)" font-size="10" fill="#000">7 Sep 20:00</text>
<text transform="translate(580 836) scale(0.93 1)" font-size="10" fill="#000">8 Sep 12:00</text>
<text transform="translate(644 836) scale(0.93 1)" font-size="10" fill="#000">9 Sep 04:00</text>
<text transform="translate(708 836) scale(0.93 1)" font-size="10" fill="#000">11 Sep 23:00</text>
<text transform="translate(772 836) scale(0.93 1)" font-size="10" fill="#000">12 Sep 12:00</text>
<text transform="translate(836 836) scale(0.93 1)" font-size="10" fill="#000">13 Sep 04:00</text>
<text transform="translate(900 836) scale(0.93 1)" font-size="10" fill="#000">13 Sep 20:00</text>
<text transform="translate(964 836) scale(0.93 1)" font-size="10" fill="#000">14 Sep 12:00</text>
<text transform="translate(1028 836) scale(0.93 1)" font-size="10" fill="#000">15 Sep 04:00</text>
<text transform="translate(1092 836) scale(0.93 1)" font-size="10" fill="#000">15 Sep 20:00</text>
<text transform="translate(1156 836) scale(0.93 1)" font-size="10" fill="#000">16 Sep 12:00</text>
<text transform="translate(1220 836) scale(0.93 1)" font-size="10" fill="#000">19 Sep 04:00</text>
<text transform="translate(1284 836) scale(0.93 1)" font-size="10" fill="#000">19 Sep 20:00</text>
<line x1="1267" y1="575" x2="1333" y2="475" stroke="#e3141e" stroke-width="3.2"/>
<path d="M1342.5 460.5 L1325.5 470.5 L1340.5 480.5 Z" fill="#e3141e"/>
<g>
<rect x="5" y="0" width="1" height="18" fill="#a0a0a0"/>
<rect x="6" y="0" width="1" height="18" fill="#ffffff"/>
<path d="M15.5 0.5 H24 L26.5 3 V13.5 H15.5 Z" fill="#fff" stroke="#777" stroke-width="1"/>
<path d="M17.5 2.5 H19.5 M17.5 6.5 H23 M17.5 8.5 H23 M17.5 10.5 H20" stroke="#888" stroke-width="0.9"/>
<path d="M23 6.5 H27 V10 H30.5 V14 H27 V17.5 H23 V14 H19.5 V10 H23 Z" fill="#22dd22" stroke="#0a8a0a" stroke-width="1"/>
<g stroke="#000" stroke-width="1.1" fill="none" stroke-linecap="square"><path d="M37 1.5 V2.5 M35 3.5 H40 M35.8 4.8 L36.3 5.8 M39.2 4.8 L38.7 5.8 M34.5 6.5 H40.5 M35 8.5 H40 M37.5 6.5 V12 M37.5 9 L35 11.5 M37.5 9 L40 11"/><path d="M45.5 1.5 L41.5 3 V8 Q41.5 11 40.5 12 M41.5 6 H46 M44 6 V12"/><path d="M47.5 1.8 L48.5 3 M47.2 5.5 H48.5 V10.5 L49.5 9.5 M50.5 2.5 H57.5 M54.5 2.5 V11.5 Q54.5 12 53 11.5"/><path d="M61 1 L62 2.5 M67 1 L66 2.5 M60 3.5 H68 V9 H60 Z M60 6.2 H68 M64 3.5 V12 M58.5 10.5 H69.5"/></g>
<defs><linearGradient id="gold" x1="0" y1="0" x2="1" y2="1"><stop offset="0" stop-color="#ffe680"/><stop offset="0.5" stop-color="#e0b020"/><stop offset="1" stop-color="#a86a10"/></linearGradient><linearGradient id="blu" x1="0" y1="0" x2="0" y2="1"><stop offset="0" stop-color="#40b0ff"/><stop offset="1" stop-color="#1060d0"/></linearGradient><linearGradient id="cld" x1="0" y1="0" x2="0" y2="1"><stop offset="0" stop-color="#ffffff"/><stop offset="1" stop-color="#b8c4d8"/></linearGradient><radialGradient id="lb"><stop offset="0" stop-color="#f0faff"/><stop offset="1" stop-color="#c8e8fa"/></radialGradient></defs>
<path d="M88 1.2 L97.5 8.2 Q98 9.5 96.5 11 L91 15.5 Q90 16 89 15.3 L82.5 10.8 Q81.5 9.5 82.8 8.8 L86.3 4.8 Z" fill="#b0700c"/>
<path d="M88.2 2 L96.5 8 L91.5 13.5 L83.5 8.8 Q85.5 7 86.5 4.8 Z" fill="url(#gold)"/>
<path d="M83.2 9.6 L91.2 14.4 L96.6 9.2" stroke="#f2dc90" stroke-width="1" fill="none"/>
<path d="M112 0 H123.5 V10 H112 Z" fill="#1890f0"/>
<path d="M112 0 H116 V10 H112 Z" fill="#0878e0"/>
<path d="M115.5 1 V9 M117 5.2 H122" stroke="#f0f8ff" stroke-width="1"/>
<path d="M111.5 15.6 Q109.8 15.3 110.2 12.8 Q110.8 10.8 113 11.2 Q113.8 8.2 117.5 8.3 Q119.8 8.3 121 10.3 Q122.5 9.2 124.5 10.5 Q126 12 125.6 14 Q125.2 15.6 123.5 15.6 Z" fill="url(#cld)" stroke="#44609a" stroke-width="1"/>
<g fill="none" stroke-width="1.1"><circle cx="145.8" cy="7.8" r="7.3" stroke="#9ab4e4"/><circle cx="145.8" cy="7.8" r="4.4" stroke="#a8c0e8"/></g>
<path d="M146 8 V15.5 A7.5 7.5 0 0 0 153.3 7.8 L146 8 Z" fill="#58b058" fill-opacity="0.55"/>
<circle cx="145.8" cy="7.6" r="1.8" fill="#2050c8"/><path d="M146.4 8 V15.7" stroke="#18a018" stroke-width="1.3" fill="none"/>
<path d="M165.5 7 L181 6.5 L173 15.5 Z" fill="#f4dc60" stroke="#d0a020" stroke-width="0.9"/>
<ellipse cx="173" cy="5" rx="7.6" ry="2.4" fill="#68b8e8" stroke="#2a88b8" stroke-width="0.9"/>
<path d="M169.5 5 Q169.5 0 173 0 Q176.5 0 176.5 5 Z" fill="#80c8f0" stroke="#2a88b8" stroke-width="0.8"/>
<circle cx="177.5" cy="11.6" r="4.2" fill="#e02008" stroke="#b01000" stroke-width="0.6"/><rect x="176" y="10" width="3.2" height="3.2" fill="#fff"/>
<g stroke="#000" stroke-width="1.1" fill="none" stroke-linecap="square"><path d="M191.5 1 L190.5 2.5 M187.5 2.5 H196 V12 H187.5 Z M187.5 5.5 H196 M187.5 8.5 H196"/><path d="M198.5 2.5 H203 M198 5.5 H203.5 M200.5 5.5 L198.5 11 L203 10 M202 8.5 L203.5 11 M204 4.5 H208.5 V11.5 L207 11 M206 1.5 V6 Q206 10 203.8 12"/><path d="M216 1 L216.5 2.5 M210.5 3.5 H222 M213.5 5 L211 7.5 M219 5 L221.5 7.5 M214 7 Q216 11 221.5 12 M219 7 Q216.5 11 211 12"/><path d="M224.5 1.5 H230.5 V6.5 H224.5 Z M224.5 4 H230.5 M225.5 6.5 L222.5 9.5 M224.5 8 H232.5 Q232.5 12 230.5 12 M227 8 L224 12 M229.5 8 L227 11.5"/></g>
<rect x="241" y="0" width="1" height="19" fill="#a0a0a0"/>
<rect x="242" y="0" width="1" height="19" fill="#ffffff"/>
<rect x="245" y="0" width="3" height="1" fill="#a8a8a8"/>
<rect x="245" y="2" width="3" height="1" fill="#a8a8a8"/>
<rect x="245" y="4" width="3" height="1" fill="#a8a8a8"/>
<rect x="245" y="6" width="3" height="1" fill="#a8a8a8"/>
<rect x="245" y="8" width="3" height="1" fill="#a8a8a8"/>
<rect x="245" y="10" width="3" height="1" fill="#a8a8a8"/>
<rect x="245" y="12" width="3" height="1" fill="#a8a8a8"/>
<rect x="245" y="14" width="3" height="1" fill="#a8a8a8"/>
<rect x="245" y="16" width="3" height="1" fill="#a8a8a8"/>
<g stroke="#5a5a5a" stroke-width="1.3" fill="none"><path d="M259.5 2.5 V15.5 M257 13.5 H270"/></g>
<path d="M259.5 1.5 L257.5 4.5 L261.5 4.5 Z M271.5 13.5 L268.5 11.5 L268.5 15.5 Z" fill="#5a5a5a"/>
<path d="M265.5 3 V11.5 M265.5 4.5 H268 M263 10.5 H265.5" stroke="#008800" stroke-width="1.2" fill="none"/>
<rect x="279" y="0" width="1" height="18" fill="#a0a0a0"/>
<rect x="280" y="0" width="1" height="18" fill="#ffffff"/>
<rect x="281" y="0" width="23" height="18" fill="#f6f6f6"/>
<rect x="281" y="18" width="23" height="1" fill="#ffffff"/>
<g stroke="#5a5a5a" stroke-width="1.3" fill="none"><path d="M287.5 2.5 V15.5 M285 13.5 H298"/></g>
<path d="M287.5 1.5 L285.5 4.5 L289.5 4.5 Z M299.5 13.5 L296.5 11.5 L296.5 15.5 Z" fill="#5a5a5a"/>
<path d="M293.5 0 V12" stroke="#008800" stroke-width="1.2"/><rect x="291.3" y="2.3" width="4.5" height="7.5" fill="#30e030" stroke="#008800" stroke-width="1.1"/>
<g stroke="#5a5a5a" stroke-width="1.3" fill="none"><path d="M315.5 2.5 V15.5 M313 13.5 H326"/></g>
<path d="M315.5 1.5 L313.5 4.5 L317.5 4.5 Z M327.5 13.5 L324.5 11.5 L324.5 15.5 Z" fill="#5a5a5a"/>
<path d="M314 10.5 Q317 5 320 5.2 Q322.5 5.5 325.5 9" stroke="#30a030" stroke-width="1.1" fill="none"/>
<rect x="336" y="0" width="1" height="18" fill="#a0a0a0"/>
<rect x="337" y="0" width="1" height="18" fill="#ffffff"/>
<path d="M354.5 9.5 L360 15" stroke="#a07010" stroke-width="3.2"/><path d="M354.5 9.5 L360 15" stroke="#f0d040" stroke-width="1.8"/>
<circle cx="351" cy="6" r="5.3" fill="url(#lb)" stroke="#3878c8" stroke-width="1.2"/>
<path d="M348 6 H354 M351 3 V9" stroke="#4888b0" stroke-width="1.6"/>
<path d="M382.5 9.5 L388 15" stroke="#a07010" stroke-width="3.2"/><path d="M382.5 9.5 L388 15" stroke="#f0d040" stroke-width="1.8"/>
<circle cx="379" cy="6" r="5.3" fill="url(#lb)" stroke="#3878c8" stroke-width="1.2"/>
<path d="M376 6 H382" stroke="#4888b0" stroke-width="1.6"/>
<rect x="401" y="0" width="7.5" height="7.5" fill="#2a9a1a"/>
<rect x="402" y="3.3" width="5.5" height="3.5" fill="#fff"/>
<rect x="409" y="0" width="7.5" height="7.5" fill="#1848c8"/>
<rect x="410" y="3.3" width="5.5" height="3.5" fill="#fff"/>
<rect x="401" y="8" width="7.5" height="7.5" fill="#1848c8"/>
<rect x="402" y="11.3" width="5.5" height="3.5" fill="#fff"/>
<rect x="409" y="8" width="7.5" height="7.5" fill="#2a9a1a"/>
<rect x="410" y="11.3" width="5.5" height="3.5" fill="#fff"/>
<rect x="426" y="0" width="1" height="18" fill="#a0a0a0"/>
<rect x="427" y="0" width="1" height="18" fill="#ffffff"/>
<rect x="431" y="0" width="1" height="18" fill="#a0a0a0"/>
<rect x="432" y="0" width="1" height="18" fill="#ffffff"/>
<rect x="432" y="0" width="25" height="18" fill="#f6f6f6"/>
<rect x="432" y="18" width="25" height="1" fill="#ffffff"/>
<g stroke="#5a5a5a" stroke-width="1.3" fill="none"><path d="M439.5 2.5 V15.5 M437 13.5 H450"/></g>
<path d="M439.5 1.5 L437.5 4.5 L441.5 4.5 Z M451.5 13.5 L448.5 11.5 L448.5 15.5 Z" fill="#5a5a5a"/>
<path d="M444.5 4 L448 7.5 L444.5 11 Z" fill="#50d050" stroke="#109010" stroke-width="1"/>
<rect x="459" y="0" width="1" height="18" fill="#a0a0a0"/>
<rect x="460" y="0" width="1" height="18" fill="#ffffff"/>
<rect x="461" y="0" width="24" height="18" fill="#f6f6f6"/>
<rect x="461" y="18" width="24" height="1" fill="#ffffff"/>
<g stroke="#5a5a5a" stroke-width="1.3" fill="none"><path d="M467.5 2.5 V15.5 M465 13.5 H478"/></g>
<path d="M467.5 1.5 L465.5 4.5 L469.5 4.5 Z M479.5 13.5 L476.5 11.5 L476.5 15.5 Z" fill="#5a5a5a"/>
<path d="M473.5 2 V11.8" stroke="#1870b0" stroke-width="1.2"/><path d="M474.5 7.5 L478 5.5 L477 7.5 L479 7.5 L477 7.5 L478 9.5 Z" fill="#e05010" stroke="#e05010" stroke-width="0.8"/>
<rect x="488" y="0" width="1" height="18" fill="#a0a0a0"/>
<rect x="489" y="0" width="1" height="18" fill="#ffffff"/>
<path d="M498.5 0.5 H507 L509.5 3 V13.5 H498.5 Z" fill="#fff" stroke="#777" stroke-width="1"/>
<path d="M502.5 11 Q501 11 501.5 8 L502.5 4 Q503 3 504.5 3.5 M500.5 6.5 H504" stroke="#333" stroke-width="0.8" fill="none"/>
<path d="M506 6.5 H510 V10 H513.5 V14 H510 V17.5 H506 V14 H502.5 V10 H506 Z" fill="#22dd22" stroke="#0a8a0a" stroke-width="1"/>
<path d="M520 7 L526 7 L523 10 Z" fill="#000"/>
<circle cx="544" cy="8" r="7.3" fill="#fff" stroke="#1a70d0" stroke-width="2.2"/>
<path d="M543.5 3.5 V8.5 H546.5" stroke="#000" stroke-width="1.1" fill="none"/>
<path d="M559 7 L565 7 L562 10 Z" fill="#000"/>
<rect x="575.5" y="1.5" width="15" height="13.5" fill="#fff" stroke="#3a70c0" stroke-width="1"/>
<rect x="576" y="2" width="14" height="2" fill="#80a8e0"/><path d="M575.5 9.5 H590.5" stroke="#3a70c0" stroke-width="1"/>
<path d="M577.5 7.5 L580 7 L582 5.5 L584 6.5 L586 6 L588.5 5" stroke="#a02010" stroke-width="1" fill="none"/>
<path d="M577.5 12.5 L579.5 11.5 L581 12.5 L583 11 L585 12 L586.5 10 L588.5 12.5" stroke="#109010" stroke-width="1" fill="none"/>
<path d="M598 7 L604 7 L601 10 Z" fill="#000"/>
<rect x="609" y="0" width="1" height="18" fill="#a0a0a0"/>
<rect x="610" y="0" width="1" height="18" fill="#ffffff"/>
<rect x="613" y="0" width="3" height="1" fill="#a8a8a8"/>
<rect x="613" y="2" width="3" height="1" fill="#a8a8a8"/>
<rect x="613" y="4" width="3" height="1" fill="#a8a8a8"/>
<rect x="613" y="6" width="3" height="1" fill="#a8a8a8"/>
<rect x="613" y="8" width="3" height="1" fill="#a8a8a8"/>
<rect x="613" y="10" width="3" height="1" fill="#a8a8a8"/>
<rect x="613" y="12" width="3" height="1" fill="#a8a8a8"/>
<rect x="613" y="14" width="3" height="1" fill="#a8a8a8"/>
<rect x="613" y="16" width="3" height="1" fill="#a8a8a8"/>
<rect x="619" y="0" width="1" height="18" fill="#a0a0a0"/>
<rect x="620" y="0" width="1" height="18" fill="#ffffff"/>
<rect x="621" y="0" width="24" height="18" fill="#f6f6f6"/>
<rect x="621" y="18" width="24" height="1" fill="#ffffff"/>
<path d="M627 1 L635 8.7 L631.5 8.9 L633.8 14 L632 15 L629.7 9.8 L627 12.3 Z" fill="#4a4a4a"/>
<path d="M659.5 1 V7.5 M659.5 9.5 V15.8 M652 8.5 H658.5 M660.5 8.5 H667" stroke="#4a4a4a" stroke-width="1.2"/>
<rect x="676" y="0" width="1" height="18" fill="#a0a0a0"/>
<rect x="677" y="0" width="1" height="18" fill="#ffffff"/>
<path d="M693.5 2 V15" stroke="#4a4a4a" stroke-width="1.2"/>
<path d="M716 8.3 H728" stroke="#4a4a4a" stroke-width="1.4"/>
<path d="M744 14.8 L756 2.7" stroke="#4a4a4a" stroke-width="1.1"/>
<path d="M770 9.5 L777.5 1.8 M772 15 L784 6.5 M771.5 11 L773 14 M773.5 8.5 L775 12.5 M776 6.5 L777.5 10.5 M778.5 4 L780 8 M781 1 L782 6" stroke="#4a4a4a" stroke-width="1" fill="none"/>
<text x="780.3" y="17" font-size="7" font-weight="bold" fill="#4a4a4a">E</text>
<path d="M799 1.5 H812 M799 4.5 H812 M799 8.5 H812 M799 12.5 H808" stroke="#4a4a4a" stroke-width="1" stroke-dasharray="1 1"/>
<text x="808.5" y="17" font-size="7" font-weight="bold" fill="#4a4a4a">F</text>
<text transform="translate(829.6 13) scale(0.8 1)" font-size="12" font-weight="bold" fill="#4a4a4a">A</text>
<path shape-rendering="crispEdges" fill="#4a4a4a" d="M856 2h1v1h-1z M856 14h1v1h-1z M858 2h1v1h-1z M858 14h1v1h-1z M860 2h1v1h-1z M860 14h1v1h-1z M862 2h1v1h-1z M862 14h1v1h-1z M864 2h1v1h-1z M864 14h1v1h-1z M866 2h1v1h-1z M866 14h1v1h-1z M868 2h1v1h-1z M868 14h1v1h-1z M856 4h1v1h-1z M868 4h1v1h-1z M856 6h1v1h-1z M868 6h1v1h-1z M856 8h1v1h-1z M868 8h1v1h-1z M856 10h1v1h-1z M868 10h1v1h-1z M856 12h1v1h-1z M868 12h1v1h-1z"/>
<rect x="855" y="1" width="2" height="2" fill="#4a4a4a"/>
<path d="M858.5 5.5 H866 M862.2 5.5 V13" stroke="#4a4a4a" stroke-width="1.6"/>
<path d="M883 6 L886.5 2 L890 6 Z M890 10.5 L897 10.5 L893.5 15 Z" fill="#4a4a4a"/><path d="M885 9 L887.7 11.6 L891.8 6.5" stroke="#4a4a4a" stroke-width="1.3" fill="none"/>
<path d="M904 7 L910 7 L907 10 Z" fill="#000"/>
<rect x="915" y="0" width="1" height="18" fill="#a0a0a0"/>
<rect x="916" y="0" width="1" height="18" fill="#ffffff"/>
<rect x="920" y="0" width="3" height="1" fill="#a8a8a8"/>
<rect x="920" y="2" width="3" height="1" fill="#a8a8a8"/>
<rect x="920" y="4" width="3" height="1" fill="#a8a8a8"/>
<rect x="920" y="6" width="3" height="1" fill="#a8a8a8"/>
<rect x="920" y="8" width="3" height="1" fill="#a8a8a8"/>
<rect x="920" y="10" width="3" height="1" fill="#a8a8a8"/>
<rect x="920" y="12" width="3" height="1" fill="#a8a8a8"/>
<rect x="920" y="14" width="3" height="1" fill="#a8a8a8"/>
<rect x="920" y="16" width="3" height="1" fill="#a8a8a8"/>
</g>
<text transform="translate(930 12) scale(0.95 1)" font-size="10" fill="#404040">M1</text>
<text transform="translate(957.5 12) scale(0.95 1)" font-size="10" fill="#404040">M5</text>
<text transform="translate(984 12) scale(0.95 1)" font-size="10" fill="#404040">M15</text>
<text transform="translate(1011.5 12) scale(0.95 1)" font-size="10" fill="#404040">M30</text>
<text transform="translate(1043 12) scale(0.95 1)" font-size="10" fill="#404040">H1</text>
<rect x="1065" y="0" width="1" height="18" fill="#a0a0a0"/>
<rect x="1066" y="0" width="1" height="18" fill="#ffffff"/>
<rect x="1066" y="0" width="24" height="18" fill="#f6f6f6"/>
<rect x="1066" y="18" width="24" height="1" fill="#ffffff"/>
<text transform="translate(1070 12) scale(0.95 1)" font-size="10" fill="#404040">H4</text>
<text transform="translate(1099 12) scale(0.95 1)" font-size="10" fill="#404040">D1</text>
<text transform="translate(1127 12) scale(0.95 1)" font-size="10" fill="#404040">W1</text>
<text transform="translate(1153 12) scale(0.95 1)" font-size="10" fill="#404040">MN</text>
<rect x="1176" y="0" width="1" height="18" fill="#a0a0a0"/>
<rect x="1177" y="0" width="1" height="18" fill="#ffffff"/>
<circle cx="1646.8" cy="5.4" r="3.8" fill="none" stroke="#2a60d0" stroke-width="1.4"/><path d="M1644 8.3 L1639.5 12.8" stroke="#2a60d0" stroke-width="2.2" stroke-linecap="round"/>
<path d="M1665 15.5 L1666.5 13 Q1663 12 1663.5 9 Q1664.5 5.5 1669 5.5 Q1674 5.5 1674.5 9.5 Q1674 13 1669 13 Z" fill="#e8e8f0" stroke="#a8a8a8" stroke-width="0.9"/>
<circle cx="1677.5" cy="5.8" r="8.2" fill="#de2a10"/>
<text x="1677.5" y="10" font-size="11" fill="#fff" text-anchor="middle">1</text>
</svg>
</body></html>
